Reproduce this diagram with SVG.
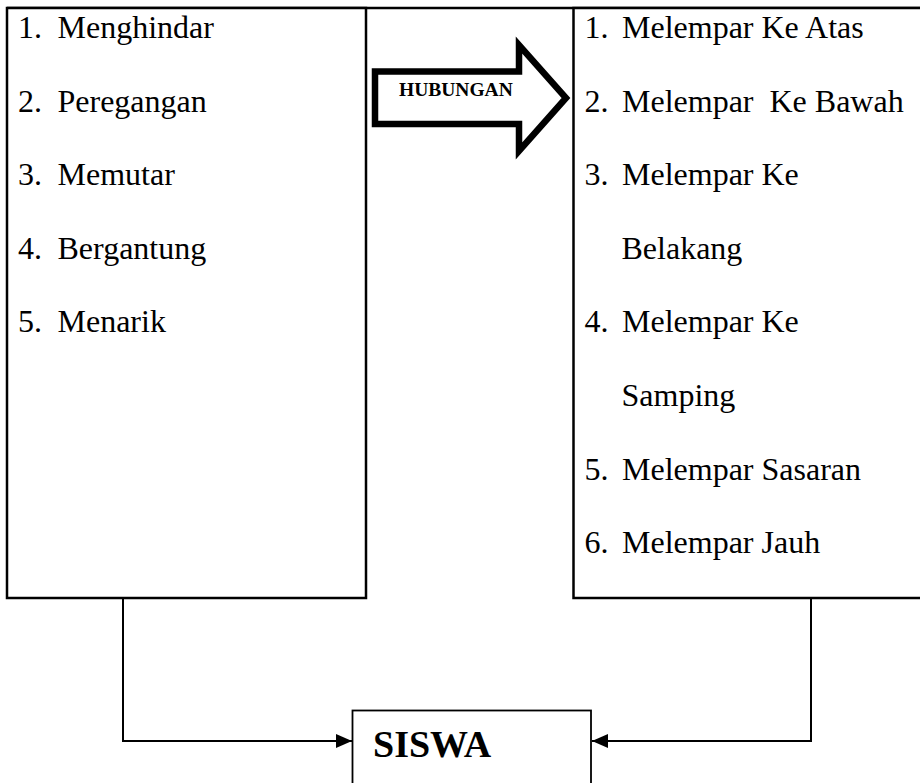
<svg xmlns="http://www.w3.org/2000/svg" width="920" height="783" viewBox="0 0 920 783">
<defs>
<style>
.box{fill:#fff;stroke:#000;stroke-width:2.5}
.item{font-family:"Liberation Serif","Times New Roman",serif;font-size:32px;fill:#000;white-space:pre}
.conn{fill:none;stroke:#000;stroke-width:2}
</style>
<marker id="ah" markerUnits="userSpaceOnUse" markerWidth="16" markerHeight="14" refX="16" refY="7" orient="auto">
<path d="M0,0 L16,7 L0,14 Z" fill="#000"/>
</marker>
</defs>
<rect width="920" height="783" fill="#fff"/>
<g id="frame">
<line x1="7" y1="8" x2="920" y2="8" stroke="#000" stroke-width="2.5"/>
</g>
<g id="left-box">
<rect class="box" x="7" y="8" width="359" height="590"/>
<text class="item" y="38"><tspan x="18">1.</tspan><tspan x="57.5">Menghindar</tspan></text>
<text class="item" y="111.6"><tspan x="18">2.</tspan><tspan x="57.5">Peregangan</tspan></text>
<text class="item" y="185.2"><tspan x="18">3.</tspan><tspan x="57.5">Memutar</tspan></text>
<text class="item" y="258.8"><tspan x="18">4.</tspan><tspan x="57.5">Bergantung</tspan></text>
<text class="item" y="332.4"><tspan x="18">5.</tspan><tspan x="57.5">Menarik</tspan></text>
</g>
<g id="right-box">
<rect class="box" x="573.5" y="8" width="360" height="590"/>
<text class="item" y="38"><tspan x="584.5">1.</tspan><tspan x="622">Melempar Ke Atas</tspan></text>
<text class="item" y="111.6"><tspan x="584.5">2.</tspan><tspan x="622">Melempar  Ke Bawah</tspan></text>
<text class="item" y="185.2"><tspan x="584.5">3.</tspan><tspan x="622">Melempar Ke</tspan></text>
<text class="item" y="258.8" x="621.5">Belakang</text>
<text class="item" y="332.4"><tspan x="584.5">4.</tspan><tspan x="622">Melempar Ke</tspan></text>
<text class="item" y="406" x="621.5">Samping</text>
<text class="item" y="479.6"><tspan x="584.5">5.</tspan><tspan x="622">Melempar Sasaran</tspan></text>
<text class="item" y="553.2"><tspan x="584.5">6.</tspan><tspan x="622">Melempar Jauh</tspan></text>
</g>
<g id="hubungan-arrow">
<polygon points="375,71.5 519,71.5 519,45 566,98 519,151 519,124 375,124" fill="#fff" stroke="#000" stroke-width="6.5" stroke-linejoin="miter" stroke-miterlimit="10"/>
<text x="399" y="96" font-family="'Liberation Serif','Times New Roman',serif" font-size="19.5" font-weight="bold" fill="#000">HUBUNGAN</text>
</g>
<g id="siswa">
<rect x="352.5" y="710.5" width="238.5" height="120" fill="#fff" stroke="#000" stroke-width="1.8"/>
<text x="373" y="756.5" font-family="'Liberation Serif','Times New Roman',serif" font-size="38" font-weight="bold" fill="#000">SISWA</text>
</g>
<g id="connectors">
<polyline class="conn" points="123,598 123,741 352,741" marker-end="url(#ah)"/>
<polyline class="conn" points="811,598 811,741 592,741" marker-end="url(#ah)"/>
</g>
</svg>
